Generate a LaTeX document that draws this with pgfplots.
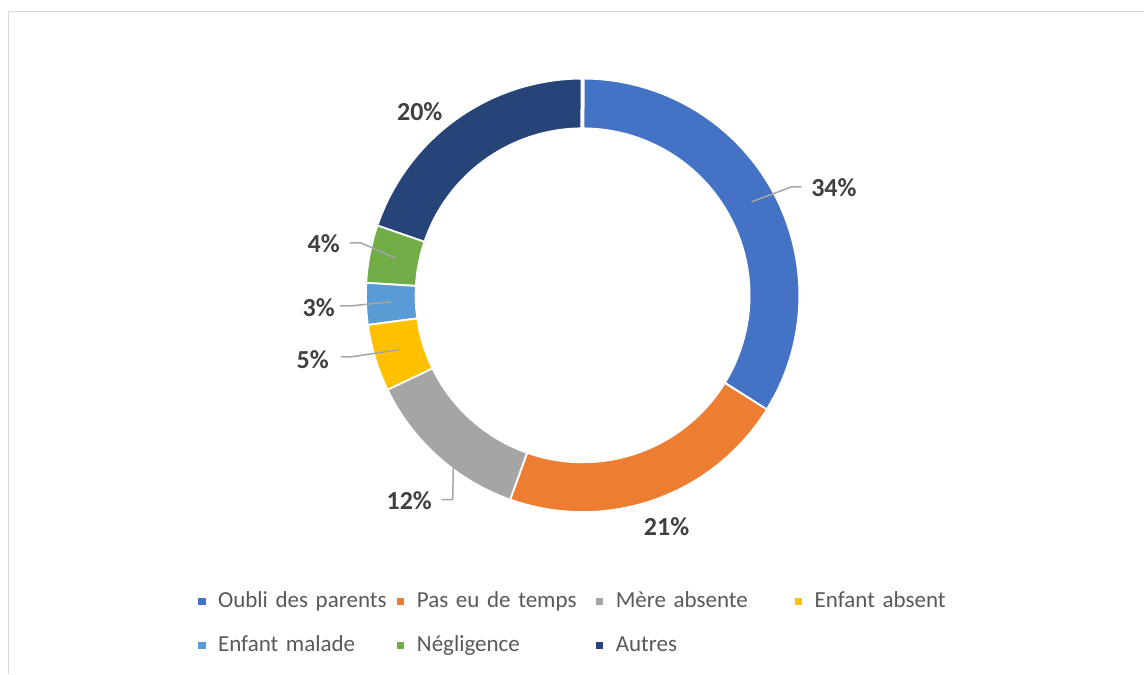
\documentclass[border=0pt]{standalone}
\usepackage{fontspec}
\setmainfont{Carlito}
\usepackage{pgfplots}
\pgfplotsset{compat=1.18}
\definecolor{cBlue}{HTML}{4472C4}
\definecolor{cOrange}{HTML}{ED7D31}
\definecolor{cGray}{HTML}{A5A5A5}
\definecolor{cYellow}{HTML}{FFC000}
\definecolor{cLBlue}{HTML}{5B9BD5}
\definecolor{cGreen}{HTML}{70AD47}
\definecolor{cNavy}{HTML}{264478}
\definecolor{txt}{HTML}{404040}
\definecolor{legtxt}{HTML}{595959}
\definecolor{lead}{HTML}{A6A6A6}
\definecolor{frame}{HTML}{D9D9D9}
% slice: start%, end% (cumulative), colour
\newcommand{\slice}[3]{%
\addplot[fill=#3, draw=white, line width=4pt, variable=\t,
  samples at={0,0.02,...,0.98,1,1.001,1.02,1.04,...,1.98,2}]
  ({583+(\t<=1.0005 ? 218 : 166)*sin(3.6*(\t<=1.0005 ? (#1+(#2-#1)*min(\t,1)) : (#2-(#2-#1)*max(\t-1,0))))},
   {295.5-(\t<=1.0005 ? 218 : 166)*cos(3.6*(\t<=1.0005 ? (#1+(#2-#1)*min(\t,1)) : (#2-(#2-#1)*max(\t-1,0))))});}
\begin{document}
\begin{tikzpicture}
\begin{axis}[x=1pt, y=1pt, xmin=0, xmax=1145, ymin=0, ymax=674, y dir=reverse,
  hide axis, scale only axis, clip=false,
  legend columns=4,
  legend image code/.code={\path (0pt,0pt) -- (18pt,0pt); \fill[#1, draw=none] (0pt,-3.75pt) rectangle (7.5pt,3.75pt);},
  legend style={draw=none, fill=none, at={(196/1145,50/674)}, anchor=west, inner sep=0pt,
    font=\fontsize{23}{27}\selectfont, text=legtxt, row sep=23pt, column sep=0pt,
    nodes={inner xsep=0pt, inner ysep=0pt, text width=177pt, align=left, text height=16pt, text depth=5pt}},
  legend cell align=left]
% values: 33.9, 21.6, 12.4, 5.0, 3.1, 4.3, 19.7  (cumulative bounds below)
\slice{0}{33.9}{cBlue}
\addlegendentry{Oubli des parents}
\slice{33.9}{55.5}{cOrange}
\addlegendentry{Pas eu de temps}
\slice{55.5}{67.9}{cGray}
\addlegendentry{Mère absente}
\slice{67.9}{72.9}{cYellow}
\addlegendentry{Enfant absent}
\slice{72.9}{76.0}{cLBlue}
\addlegendentry{Enfant malade}
\slice{76.0}{80.3}{cGreen}
\addlegendentry{Négligence}
\slice{80.3}{100}{cNavy}
\addlegendentry{Autres}
% leader lines
\addplot[lead, line width=1.5pt, no marks, forget plot] coordinates {(752,202) (792,187) (802,187)};
\addplot[lead, line width=1.5pt, no marks, forget plot] coordinates {(442,500) (453,500) (454,445)};
\addplot[lead, line width=1.5pt, no marks, forget plot] coordinates {(341,357) (352,357) (399,350)};
\addplot[lead, line width=1.5pt, no marks, forget plot] coordinates {(340,306) (352,306) (391,302)};
\addplot[lead, line width=1.5pt, no marks, forget plot] coordinates {(350,243) (361,243) (395,258)};
% frame
\addplot[frame, line width=1.5pt, no marks, forget plot] coordinates {(8.5,674) (8.5,11.5) (1145,11.5)};
\path (axis cs:0,0) rectangle (axis cs:1145,674);
% labels
\begin{scope}[every node/.style={text=txt, font=\bfseries\fontsize{26}{31}\selectfont, inner sep=0pt}]
\node at (axis cs:834.5,187.5) {34\%};
\node at (axis cs:667,527) {21\%};
\node at (axis cs:409.5,500.5) {12\%};
\node at (axis cs:313,360) {5\%};
\node at (axis cs:319,308) {3\%};
\node at (axis cs:324,244) {4\%};
\node at (axis cs:420,112) {20\%};
\end{scope}
\end{axis}
\end{tikzpicture}
\end{document}
